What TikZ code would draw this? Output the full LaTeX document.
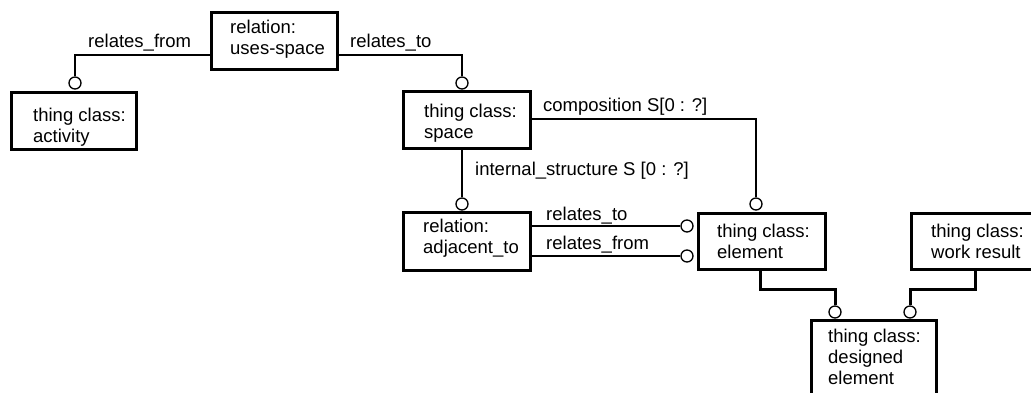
\documentclass[tikz,border=0pt]{standalone}
\usepackage{fontspec}
\setmainfont{Liberation Sans}
\begin{document}
\begin{tikzpicture}[x=1pt,y=-1pt,
  box/.style={draw, line width=3pt, rectangle, inner sep=0pt, fill=white},
  txt/.style={anchor=north west, inner sep=0pt, align=left, font=\fontsize{18.5}{21}\selectfont},
  lbl/.style={anchor=base west, inner sep=0pt, font=\fontsize{18.5}{21}\selectfont},
  thinline/.style={line width=1.3pt},
  thickline/.style={line width=3pt},
  ring/.style={draw, circle, line width=1.3pt, fill=white, minimum size=12pt, inner sep=0pt}]
\useasboundingbox (0,0) rectangle (1031,392);
% boxes
\node[box, minimum width=126pt, minimum height=57pt] (us) at (274.5,41) {};
\node[box, minimum width=125pt, minimum height=57pt] (act) at (74,121) {};
\node[box, minimum width=127pt, minimum height=57pt] (sp) at (467,120) {};
\node[box, minimum width=127pt, minimum height=58pt] (adj) at (467,241.5) {};
\node[box, minimum width=127pt, minimum height=56pt] (el) at (762,241.5) {};
\node[box, minimum width=127pt, minimum height=56pt] (wr) at (975,241.5) {};
\node[box, minimum width=125pt, minimum height=80pt] (de) at (874,360) {};
% texts
\node[txt] (tus) at (230,20) {relation:\\uses-space};
\node[txt] (tact) at (33,108) {thing class:\\activity};
\node[txt] (tsp) at (424,104) {thing class:\\space};
\node[txt] (tadj) at (423,219) {relation:\\adjacent\_to};
\node[txt] (tel) at (717,224) {thing class:\\element};
\node[txt] (twr) at (931,224) {thing class:\\work result};
\node[txt] (tde) at (828,329) {thing class:\\designed\\element};
% rings
\node[ring] (r1) at (75,83) {};
\node[ring] (r2) at (462,83) {};
\node[ring] (r3) at (756,204) {};
\node[ring] (r4) at (462,204) {};
\node[ring] (r5) at (687,226) {};
\node[ring] (r6) at (687,256) {};
\node[ring] (r7) at (835,312) {};
\node[ring] (r8) at (910,312) {};
% thin connectors
\draw[thinline] ([yshift=-14pt]us.west) -| (r1.north);
\draw[thinline] ([yshift=-14pt]us.east) -| (r2.north);
\draw[thinline] ([yshift=1pt]sp.east) -| (r3.north);
\draw[thinline] (sp.south -| r4) -- (r4.north);
\draw[thinline] (adj.east |- r5) -- (r5.west);
\draw[thinline] (adj.east |- r6) -- (r6.west);
% thick connectors
\coordinate (b1) at (760,289);
\coordinate (b2) at (975,289);
\draw[thickline] (el.south -| b1) -- (b1) -| (r7.north);
\draw[thickline] (wr.south -| b2) -- (b2) -| (r8.north);
% labels
\node[lbl] (l1) at (88,47) {relates\_from};
\node[lbl] (l2) at (350,47) {relates\_to};
\node[lbl] (l3) at (543,111) {composition S[0 : ?]};
\node[lbl] (l4) at (475,175) {internal\_structure S [0 : ?]};
\node[lbl] (l5) at (546,220) {relates\_to};
\node[lbl] (l6) at (546,249) {relates\_from};
\end{tikzpicture}
\end{document}
